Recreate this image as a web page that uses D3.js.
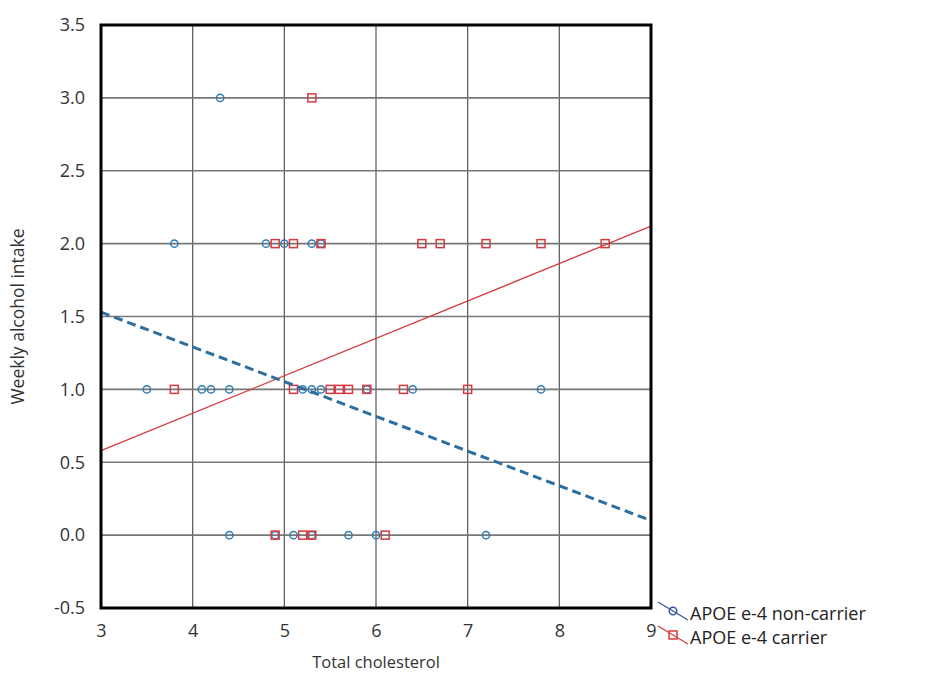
<!DOCTYPE html>
<html>
<head>
<meta charset="utf-8">
<script src="https://cdn.jsdelivr.net/npm/d3@7"></script>
<style>
  body { margin: 0; background: #fff; }
  text { font-family: "Open Sans", "Noto Sans", sans-serif; fill: #333; }
</style>
</head>
<body>
<div id="chart"></div>
<script>
// Data
const xTicks = [3, 4, 5, 6, 7, 8, 9];
const yTicks = [-0.5, 0, 0.5, 1, 1.5, 2, 2.5, 3, 3.5];

const nonCarrierX = [4.3, 3.8, 4.8, 5.0, 5.3, 5.4, 3.5, 4.1, 4.2, 4.4, 5.2, 5.3, 5.4, 5.9, 6.4, 7.8, 4.4, 4.9, 5.1, 5.3, 5.7, 6.0, 7.2];
const nonCarrierY = [3, 2, 2, 2, 2, 2, 1, 1, 1, 1, 1, 1, 1, 1, 1, 1, 0, 0, 0, 0, 0, 0, 0];

const carrierX = [5.3, 4.9, 5.1, 5.4, 6.5, 6.7, 7.2, 7.8, 8.5, 3.8, 5.1, 5.5, 5.6, 5.7, 5.9, 6.3, 7.0, 4.9, 5.2, 5.3, 6.1];
const carrierY = [3, 2, 2, 2, 2, 2, 2, 2, 2, 1, 1, 1, 1, 1, 1, 1, 1, 0, 0, 0, 0];

const fitX = [3, 9];
const nonCarrierFit = [1.53, 0.1];
const carrierFit = [0.58, 2.12];

const seriesNames = ["APOE e-4 non-carrier", "APOE e-4 carrier"];

// Set dimensions
const width = 927;
const height = 680;
const blue = "#2f7db5";
const red = "#d8383f";

const x = d3.scaleLinear().domain([3, 9]).range([101, 651]);
const y = d3.scaleLinear().domain([-0.5, 3.5]).range([608, 25]);

const svg = d3.select("#chart")
    .append("svg")
    .attr("width", width)
    .attr("height", height);

// Grid
svg.append("g")
    .selectAll("line")
    .data(xTicks.slice(1, -1))
    .enter().append("line")
    .attr("x1", d => x(d)).attr("x2", d => x(d))
    .attr("y1", y(3.5)).attr("y2", y(-0.5))
    .attr("stroke", "#555")
    .attr("stroke-width", 1.2);

svg.append("g")
    .selectAll("line")
    .data(yTicks.slice(1, -1))
    .enter().append("line")
    .attr("x1", x(3)).attr("x2", x(9))
    .attr("y1", d => y(d)).attr("y2", d => y(d))
    .attr("stroke", "#777")
    .attr("stroke-width", 1.6);

// Axes (labels only)
const xAxis = svg.append("g")
    .attr("transform", `translate(0,${y(-0.5)})`)
    .call(d3.axisBottom(x).tickValues(xTicks).tickSize(0).tickPadding(16).tickFormat(d3.format("d")));
xAxis.select(".domain").remove();
xAxis.attr("font-family", null).attr("font-size", null);
xAxis.selectAll("text").style("font-size", "18px").style("fill", "#333");

const yAxis = svg.append("g")
    .attr("transform", `translate(${x(3)},0)`)
    .call(d3.axisLeft(y).tickValues(yTicks).tickSize(0).tickPadding(16)
        .tickFormat(d => d3.format(".1f")(d).replace("−", "-")));
yAxis.select(".domain").remove();
yAxis.attr("font-family", null).attr("font-size", null);
yAxis.selectAll("text").style("font-size", "18px").style("fill", "#333");

// Axis titles
svg.append("text")
    .attr("x", (x(3) + x(9)) / 2)
    .attr("y", 668)
    .attr("text-anchor", "middle")
    .style("font-size", "16.5px")
    .text("Total cholesterol");

svg.append("text")
    .attr("transform", `translate(24,${(y(3.5) + y(-0.5)) / 2}) rotate(-90)`)
    .attr("text-anchor", "middle")
    .style("font-size", "17.5px")
    .text("Weekly alcohol intake");

// Fit line (carrier)
const line = d3.line().x(d => x(d[0])).y(d => y(d[1]));
svg.append("path")
    .datum(d3.zip(fitX, carrierFit))
    .attr("d", line)
    .attr("fill", "none")
    .attr("stroke", red)
    .attr("stroke-width", 1.3);

// Points
svg.append("g")
    .selectAll("circle")
    .data(d3.zip(nonCarrierX, nonCarrierY))
    .enter().append("circle")
    .attr("cx", d => x(d[0]))
    .attr("cy", d => y(d[1]))
    .attr("r", 3.6)
    .attr("fill", "none")
    .attr("stroke", blue)
    .attr("stroke-width", 1.5);

svg.append("g")
    .selectAll("rect")
    .data(d3.zip(carrierX, carrierY))
    .enter().append("rect")
    .attr("x", d => x(d[0]) - 4)
    .attr("y", d => y(d[1]) - 4)
    .attr("width", 8)
    .attr("height", 8)
    .attr("fill", "none")
    .attr("stroke", red)
    .attr("stroke-width", 1.5);

// Fit line (non-carrier), dashed
svg.append("path")
    .datum(d3.zip(fitX, nonCarrierFit))
    .attr("d", line)
    .attr("fill", "none")
    .attr("stroke", "#2c6f9f")
    .attr("stroke-width", 3)
    .attr("stroke-dasharray", "9,5");

// Frame
svg.append("rect")
    .attr("x", x(3)).attr("y", y(3.5))
    .attr("width", x(9) - x(3)).attr("height", y(-0.5) - y(3.5))
    .attr("fill", "none")
    .attr("stroke", "#000")
    .attr("stroke-width", 3);

// Legend
const legend = svg.append("g").attr("transform", "translate(658,602)");
const legendColors = ["#3a55a0", red];
seriesNames.forEach((name, i) => {
    const g = legend.append("g").attr("transform", `translate(0,${i * 24})`);
    g.append("line")
        .attr("x1", 0).attr("y1", 0).attr("x2", 30).attr("y2", 18)
        .attr("stroke", legendColors[i])
        .attr("stroke-width", 1.3);
    if (i === 0) {
        g.append("circle").attr("cx", 15).attr("cy", 9).attr("r", 3.8)
            .attr("fill", "none").attr("stroke", legendColors[i]).attr("stroke-width", 1.5);
    } else {
        g.append("rect").attr("x", 11).attr("y", 5).attr("width", 8).attr("height", 8)
            .attr("fill", "none").attr("stroke", legendColors[i]).attr("stroke-width", 1.5);
    }
    g.append("text")
        .attr("x", 32).attr("y", 18)
        .style("font-size", "18px")
        .style("fill", "#222")
        .text(name);
});
</script>
</body>
</html>
